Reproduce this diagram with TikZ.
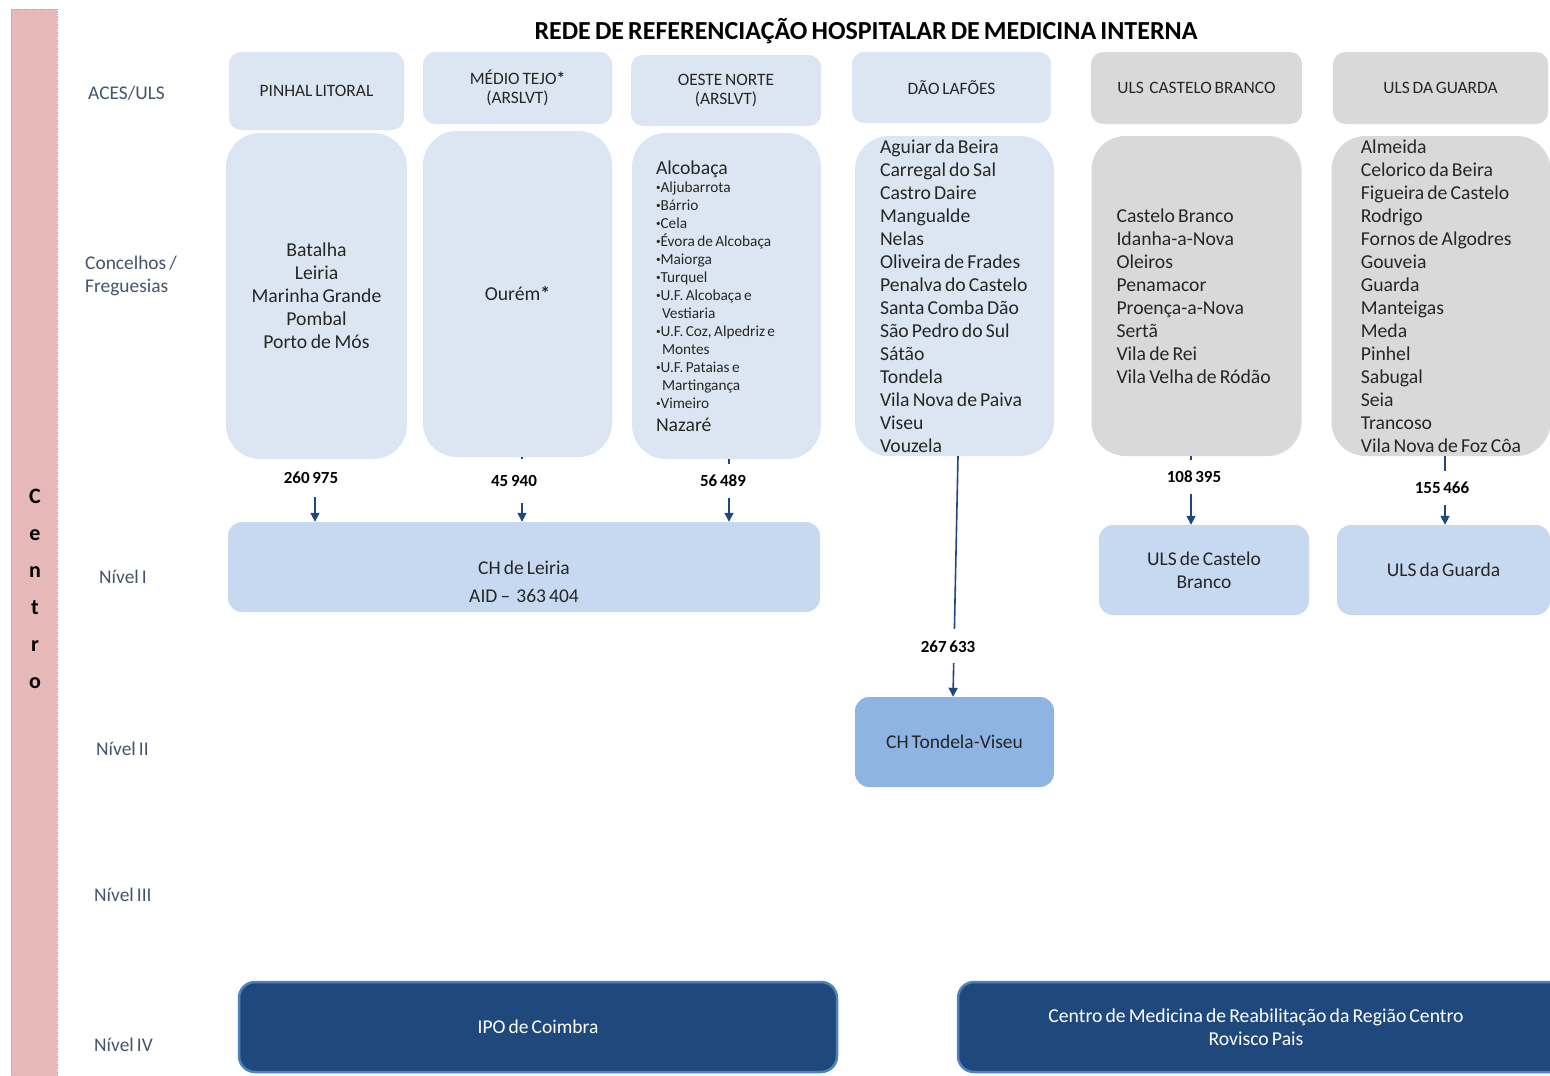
\documentclass[tikz,border=0pt]{standalone}
\usepackage{fontspec}
\usepackage{graphicx}
\setmainfont{Carlito}[WordSpace=0.7]
\usetikzlibrary{arrows.meta}
\definecolor{hdrfill}{HTML}{DCE6F2}
\definecolor{grayfill}{HTML}{D9D9D9}
\definecolor{lvlfill}{HTML}{C6D9F1}
\definecolor{midfill}{HTML}{8EB4E3}
\definecolor{darkfill}{HTML}{1F497D}
\definecolor{darkedge}{HTML}{4F81BD}
\definecolor{barfill}{HTML}{E6B9B8}
\definecolor{labcol}{HTML}{44546A}
\definecolor{txt}{HTML}{262626}
\definecolor{arrcol}{HTML}{1F497D}
\newcommand{\bul}{\raisebox{0.22ex}{\scalebox{0.6}{•}}}
\newcommand{\nsp}{\spaceskip=0pt\xspaceskip=0pt\relax}
\tikzset{
  hdr/.style={fill=hdrfill, rounded corners=12pt, inner sep=0pt, align=center, text=txt, font=\fontsize{17.4}{19}\selectfont},
  ghdr/.style={hdr, fill=grayfill},
  cont/.style={fill=hdrfill, rounded corners=34pt, inner xsep=25pt, inner ysep=0pt, text=txt, font=\fontsize{19.7}{23}\selectfont},
  gcont/.style={cont, fill=grayfill},
  lvl/.style={fill=lvlfill, rounded corners=14pt, inner sep=0pt, align=center, text=txt, font=\fontsize{19.5}{23}\selectfont},
  lvltext/.style={inner sep=0pt, align=center, text=txt, font=\fontsize{19.5}{23}\selectfont},
  dark/.style={fill=darkfill, draw=darkedge, line width=2.5pt, rounded corners=16pt, inner sep=0pt, align=center, text=white, font=\fontsize{19.5}{23}\selectfont},
  rowlab/.style={anchor=west, text=labcol, align=left, inner sep=0pt, font=\fontsize{19.4}{23}\selectfont},
  num/.style={fill=white, inner xsep=4pt, inner ysep=11pt, text=black, font=\bfseries\fontsize{17}{19}\selectfont},
  arr/.style={draw=arrcol, line width=1.6pt, -{Triangle[length=9pt,width=9pt]}}
}
\begin{document}
\begin{tikzpicture}[x=1pt,y=-1pt]
\useasboundingbox[fill=white] (0,0) rectangle (1550,1076);
% left bar
\draw[fill=barfill, draw=darkedge!60, densely dotted, line width=0.6pt] (11,9) rectangle (57,1080);
\node[font=\bfseries\fontsize{22}{37}\selectfont, align=center, inner sep=0pt, anchor=north] (centro) at (35,489) {C\\e\\n\\t\\r\\o};
% title
\node[font=\bfseries\fontsize{26}{30}\selectfont, inner sep=0pt] (title) at (866,31) {REDE DE REFERENCIAÇÃO HOSPITALAR DE MEDICINA INTERNA};
% row labels
\node[rowlab] (r1) at (88,93) {ACES/ULS};
\node[rowlab] (r2) at (85,276) {Concelhos /\\Freguesias};
\node[rowlab] (r3) at (99,577) {Nível I};
\node[rowlab] (r4) at (96,749) {Nível II};
\node[rowlab] (r5) at (94,895) {Nível III};
\node[rowlab] (r6) at (94,1045) {Nível IV};
% headers
\node[hdr, minimum width=175, minimum height=78] (h1) at (316.5,91) {PINHAL LITORAL};
\node[hdr, minimum width=189, minimum height=72] (h2) at (517.5,88) {MÉDIO TEJO\textbf{*}\\(ARSLVT)};
\node[hdr, minimum width=190, minimum height=71] (h3) at (726,90.5) {OESTE NORTE\\(ARSLVT)};
\node[hdr, minimum width=199, minimum height=71] (h4) at (951.5,87.5) {DÃO LAFÕES};
\node[ghdr, minimum width=211, minimum height=72] (h5) at (1196.5,88) {ULS\ \ CASTELO BRANCO};
\node[ghdr, minimum width=215, minimum height=72] (h6) at (1440.5,88) {ULS DA GUARDA};
% contents
\node[cont, align=center, text width=131, minimum height=326] (c1) at (316.5,296) {\nsp Batalha\\Leiria\\Marinha Grande\\Pombal\\Porto de Mós};
\node[cont, align=center, text width=139, minimum height=326] (c2) at (517.5,294) {\nsp Ourém\textbf{*}};
\node[cont, align=left, inner xsep=24pt, text width=141, minimum height=326] (c3) at (726.5,296) {\nsp
\fontsize{19.7}{23}\selectfont Alcobaça\par
\fontsize{15.3}{18}\selectfont
\bul Aljubarrota\\
\bul Bárrio\\
\bul Cela\\
\bul Évora de Alcobaça\\
\bul Maiorga\\
\bul Turquel\\
\bul U.F. Alcobaça e\\
\hspace*{6pt}Vestiaria\\
\bul U.F. Coz, Alpedriz e\\
\hspace*{6pt}Montes\\
\bul U.F. Pataias e\\
\hspace*{6pt}Martingança\\
\bul Vimeiro\par
\fontsize{19.7}{21}\selectfont Nazaré};
\node[cont, align=left, text width=149, minimum height=320] (c4) at (954.5,296) {\nsp Aguiar da Beira\\Carregal do Sal\\Castro Daire\\Mangualde\\Nelas\\Oliveira de Frades\\Penalva do Castelo\\Santa Comba Dão\\São Pedro do Sul\\Sátão\\Tondela\\Vila Nova de Paiva\\Viseu\\Vouzela};
\node[gcont, align=left, text width=160, minimum height=320] (c5) at (1196.5,296) {\nsp Castelo Branco\\Idanha-a-Nova\\Oleiros\\Penamacor\\Proença-a-Nova\\Sertã\\Vila de Rei\\Vila Velha de Ródão};
\node[gcont, align=left, inner xsep=0pt, minimum width=219, minimum height=320] (c6) at (1441,296) {Almeida\\Celorico da Beira\\Figueira de Castelo\\Rodrigo\\Fornos de Algodres\\Gouveia\\Guarda\\Manteigas\\Meda\\Pinhel\\Sabugal\\Seia\\Trancoso\\Vila Nova de Foz Côa};
% level boxes
\node[lvl, minimum width=592, minimum height=90] (leiria) at (524,567) {};
\node[lvltext] (leirialab) at (524,582) {CH de Leiria\\[5pt]AID –\ \ 363 404};
\node[lvl, minimum width=210, minimum height=90] (ulscb) at (1204,570) {ULS de Castelo\\Branco};
\node[lvl, minimum width=213, minimum height=90] (ulsg) at (1443.5,570) {ULS da Guarda};
\node[lvl, fill=midfill, minimum width=199, minimum height=90] (chtv) at (954.5,742) {CH Tondela-Viseu};
\node[dark, minimum width=598, minimum height=90] (ipo) at (538,1027) {IPO de Coimbra};
\node[dark, minimum width=620, minimum height=90] (cmr) at (1268,1027) {};
\node[text=white, align=center, inner sep=0pt, font=\fontsize{19.7}{23}\selectfont] (cmrt) at (1256,1027) {Centro de Medicina de Reabilitação da Região Centro\\Rovisco Pais};
% connectors
\coordinate (x1) at (315,0);
\coordinate (x2) at (522,0);
\coordinate (x3) at (729,0);
\coordinate (x5) at (1191,0);
\coordinate (x6) at (1445,0);
\draw[arr] (x1 |- c1.south) -- node[num, pos=0.3, xshift=-4pt, inner ysep=13pt] (n1) {260 975} (x1 |- leiria.north);
\draw[arr] (x2 |- c2.south) -- node[num, pos=0.37, xshift=-8pt, inner ysep=16pt] (n2) {45 940} (x2 |- leiria.north);
\draw[arr] (x3 |- c3.south) -- node[num, pos=0.35, xshift=-6pt] (n3) {56 489} (x3 |- leiria.north);
\draw[arr] (x5 |- c5.south) -- node[num, pos=0.3, xshift=3pt] (n5) {108 395} (x5 |- ulscb.north);
\draw[arr] (x6 |- c6.south) -- node[num, pos=0.46, xshift=-3pt] (n6) {155 466} (x6 |- ulsg.north);
\coordinate (d0) at (958,0);
\coordinate (d1) at (953,0);
\draw[arr] (d0 |- c4.south) -- node[num, pos=0.79, xshift=-6pt] (n4) {267 633} (d1 |- chtv.north);
\end{tikzpicture}
\end{document}
